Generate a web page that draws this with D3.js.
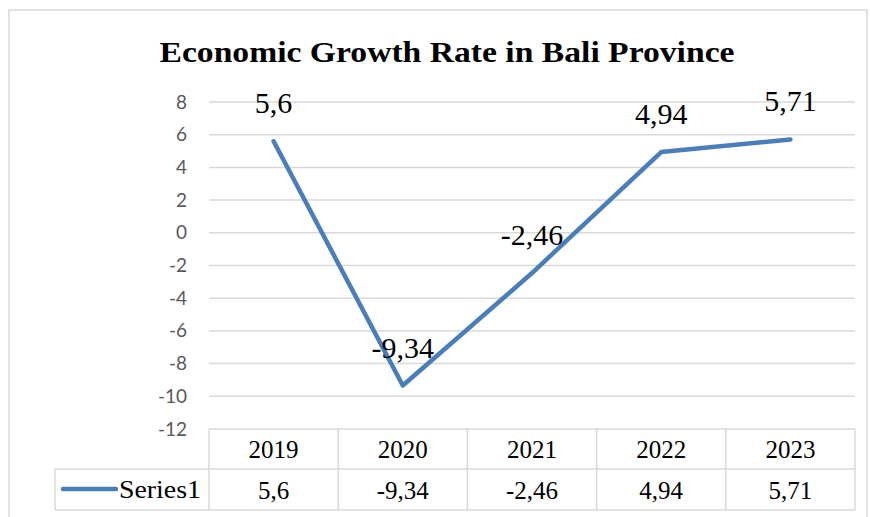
<!DOCTYPE html>
<html>
<head>
<meta charset="utf-8">
<script src="https://cdn.jsdelivr.net/npm/d3@7"></script>
<style>
  body { margin: 0; background: #fff; }
  svg { display: block; }
</style>
</head>
<body>
<div id="chart"></div>
<script>
// data
const years = ['2019', '2020', '2021', '2022', '2023'];
const growth = [5.6, -9.34, -2.46, 4.94, 5.71];
const labels = ['5,6', '-9,34', '-2,46', '4,94', '5,71'];
const yTicks = [8, 6, 4, 2, 0, -2, -4, -6, -8, -10, -12];
const seriesName = 'Series1';
const title = 'Economic Growth Rate in Bali Province';

const W = 870, H = 517;
const serif = '"Liberation Serif", "Times New Roman", serif';
const gridCol = '#d9d9d9';
const lineCol = '#4a7ebb';

const svg = d3.select('#chart').append('svg')
    .attr('width', W)
    .attr('height', H);

// outer frame
svg.append('rect')
    .attr('x', 9).attr('y', 10)
    .attr('width', 858).attr('height', 520)
    .attr('fill', 'none')
    .attr('stroke', gridCol)
    .attr('stroke-width', 1.5);

// scales
const x = d3.scaleBand().domain(years).range([209, 855]).padding(0);
const y = d3.scaleLinear().domain([-12, 8]).range([429, 102]);

// title
svg.append('text')
    .attr('x', 447).attr('y', 62)
    .attr('text-anchor', 'middle')
    .attr('textLength', 575)
    .attr('lengthAdjust', 'spacingAndGlyphs')
    .style('font-family', serif)
    .style('font-weight', 'bold')
    .style('font-size', '29px')
    .text(title);

// gridlines + y axis
const yAxis = g => g
    .attr('transform', 'translate(209,0)')
    .call(d3.axisLeft(y).tickValues(yTicks).tickSize(0).tickPadding(22)
        .tickFormat(d => String(d)))
    .call(g => g.select('.domain').remove())
    .call(g => g.selectAll('text')
        .style('font-family', 'Lato, "Open Sans", sans-serif')
        .style('font-size', '19px')
        .attr('fill', '#595959'));

svg.append('g')
    .selectAll('line')
    .data(yTicks.filter(d => d > -12))
    .join('line')
    .attr('x1', 209).attr('x2', 855)
    .attr('y1', d => y(d)).attr('y2', d => y(d))
    .attr('stroke', gridCol)
    .attr('stroke-width', 1.5);

svg.append('g').call(yAxis);

// data table
const rowTop = y(-12), rowMid = 469, rowBot = 510;
const tbl = svg.append('g')
    .attr('stroke', gridCol)
    .attr('stroke-width', 1.5);
tbl.append('line').attr('x1', 209).attr('x2', 855).attr('y1', rowTop).attr('y2', rowTop);
tbl.append('line').attr('x1', 55).attr('x2', 855).attr('y1', rowMid).attr('y2', rowMid);
tbl.append('line').attr('x1', 55).attr('x2', 855).attr('y1', rowBot).attr('y2', rowBot);
tbl.append('line').attr('x1', 55).attr('x2', 55).attr('y1', rowMid).attr('y2', rowBot);
tbl.selectAll('.vcol')
    .data(years.concat(['end']))
    .join('line')
    .attr('x1', (d, i) => i < years.length ? x(d) : x.range()[1])
    .attr('x2', (d, i) => i < years.length ? x(d) : x.range()[1])
    .attr('y1', rowTop).attr('y2', rowBot);

svg.append('g')
    .selectAll('text')
    .data(years)
    .join('text')
    .attr('x', d => x(d) + x.bandwidth() / 2)
    .attr('y', 458)
    .attr('text-anchor', 'middle')
    .style('font-family', serif)
    .style('font-size', '25px')
    .text(d => d);

svg.append('g')
    .selectAll('text')
    .data(labels)
    .join('text')
    .attr('x', (d, i) => x(years[i]) + x.bandwidth() / 2)
    .attr('y', 499)
    .attr('text-anchor', 'middle')
    .style('font-family', serif)
    .style('font-size', '25px')
    .text(d => d);

// legend key in table
svg.append('line')
    .attr('x1', 63).attr('x2', 116)
    .attr('y1', 489).attr('y2', 489)
    .attr('stroke', lineCol)
    .attr('stroke-width', 4.5)
    .attr('stroke-linecap', 'round');
svg.append('text')
    .attr('x', 119).attr('y', 498)
    .attr('textLength', 82)
    .attr('lengthAdjust', 'spacingAndGlyphs')
    .style('font-family', serif)
    .style('font-size', '25px')
    .text(seriesName);

// line
const line = d3.line()
    .x((d, i) => x(years[i]) + x.bandwidth() / 2)
    .y(d => y(d));

svg.append('path')
    .datum(growth)
    .attr('d', line)
    .attr('fill', 'none')
    .attr('stroke', lineCol)
    .attr('stroke-width', 4.5)
    .attr('stroke-linecap', 'round')
    .attr('stroke-linejoin', 'round');

// data labels
svg.append('g')
    .selectAll('text')
    .data(growth)
    .join('text')
    .attr('x', (d, i) => x(years[i]) + x.bandwidth() / 2)
    .attr('y', d => y(d) - 28)
    .attr('text-anchor', 'middle')
    .style('font-family', serif)
    .style('font-size', '30px')
    .text((d, i) => labels[i]);
</script>
</body>
</html>
